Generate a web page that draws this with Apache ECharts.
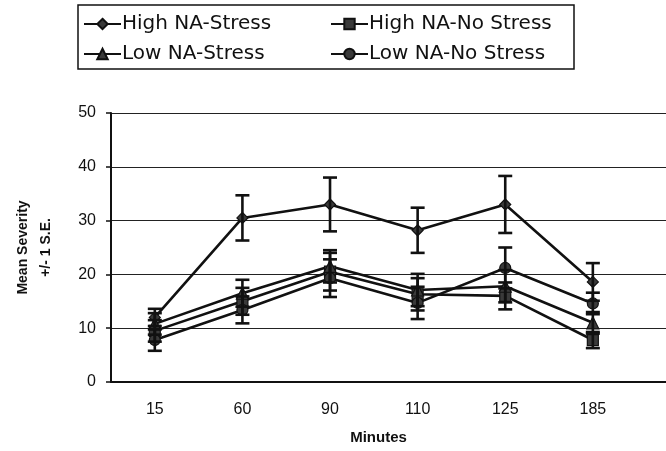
<!DOCTYPE html>
<html>
<head>
<meta charset="utf-8">
<script src="https://cdn.jsdelivr.net/npm/echarts@6/dist/echarts.min.js"></script>
<style>
html,body{margin:0;padding:0;background:#fff;}
#chart{width:666px;height:451px;}
</style>
</head>
<body>
<div id="chart"></div>
<script>
// ---- data ----
const categories = ['15', '60', '90', '110', '125', '185'];
const seriesNames = ['High NA-Stress', 'High NA-No Stress', 'Low NA-Stress', 'Low NA-No Stress'];
const highStress     = [12.0, 30.5, 33.0, 28.2, 33.0, 18.6];
const highNoStress   = [9.5, 15.0, 20.5, 16.3, 16.0, 7.8];
const lowStress      = [10.8, 16.5, 21.5, 17.1, 17.8, 11.0];
const lowNoStress    = [7.8, 13.4, 19.3, 14.7, 21.2, 14.6];
const highStressSE   = [1.6, 4.2, 5.0, 4.2, 5.3, 3.5];
const highNoStressSE = [2.0, 2.5, 3.5, 3.0, 2.5, 1.5];
const lowStressSE    = [2.0, 2.5, 3.0, 3.0, 3.0, 2.0];
const lowNoStressSE  = [2.0, 2.5, 3.5, 3.0, 3.8, 2.0];
const yTicks = [0, 10, 20, 30, 40, 50];

const FONT = 'Liberation Sans, Arial, sans-serif';
const LEGEND_FONT = 'DejaVu Sans, Liberation Sans, sans-serif';
const INK = '#111';
const symbols = ['diamond', 'rect', 'triangle', 'circle'];
const values = [highStress, highNoStress, lowStress, lowNoStress];
const ses = [highStressSE, highNoStressSE, lowStressSE, lowNoStressSE];

// category i sits at x = 2i+1 on a value axis so the plot can extend to the right edge
const xPos = i => 2 * i + 1;

const chart = echarts.init(document.getElementById('chart'), null, {renderer: 'canvas'});

const series = [];
values.forEach((vals, s) => {
  series.push({
    name: seriesNames[s],
    type: 'line',
    data: vals.map((v, i) => [xPos(i), v]),
    symbol: symbols[s],
    symbolSize: s === 2 ? 12 : 11,
    lineStyle: {color: INK, width: 2.6},
    itemStyle: {color: '#3a3a3a', borderColor: INK, borderWidth: 1.2},
    z: 3,
    animation: false
  });
  series.push({
    type: 'custom',
    name: seriesNames[s] + ' SE',
    data: vals.map((v, i) => [xPos(i), v - ses[s][i], v + ses[s][i]]),
    encode: {x: 0, y: [1, 2]},
    z: 4,
    animation: false,
    renderItem: function (params, api) {
      const x = api.value(0);
      const lo = api.coord([x, api.value(1)]);
      const hi = api.coord([x, api.value(2)]);
      const hw = 7;
      const st = {stroke: INK, lineWidth: 2.6};
      return {
        type: 'group',
        children: [
          {type: 'line', shape: {x1: lo[0], y1: lo[1], x2: hi[0], y2: hi[1]}, style: st},
          {type: 'line', shape: {x1: lo[0] - hw, y1: lo[1], x2: lo[0] + hw, y2: lo[1]}, style: st},
          {type: 'line', shape: {x1: hi[0] - hw, y1: hi[1], x2: hi[0] + hw, y2: hi[1]}, style: st}
        ]
      };
    }
  });
});

const legendCommon = {
  orient: 'horizontal',
  itemWidth: 37,
  itemHeight: 13,
  padding: 0,
  selectedMode: false,
  textStyle: {fontFamily: LEGEND_FONT, fontSize: 20, color: INK, padding: [0, 0, 0, -4]}
};
const legendPos = [[83, 14], [330, 14], [83, 44], [330, 44]];

const option = {
  backgroundColor: '#fff',
  animation: false,
  grid: {left: 111, top: 113, right: 0, bottom: 69, containLabel: false},
  legend: seriesNames.map((n, k) => Object.assign({}, legendCommon, {left: legendPos[k][0], top: legendPos[k][1], data: [n]})),
  graphic: [{
    type: 'rect',
    shape: {x: 78, y: 5, width: 496, height: 64},
    style: {fill: 'none', stroke: INK, lineWidth: 1.5},
    silent: true
  }],
  xAxis: {
    type: 'value',
    min: 0,
    max: 12.67,
    interval: 1,
    name: 'Minutes',
    nameLocation: 'middle',
    nameGap: 48,
    nameTextStyle: {fontFamily: FONT, fontSize: 15, fontWeight: 'bold', color: INK, padding: [0, 20, 0, 0]},
    axisLine: {show: true, lineStyle: {color: INK, width: 2}},
    axisTick: {show: false},
    splitLine: {show: false},
    axisLabel: {
      fontFamily: FONT, fontSize: 16, color: INK, margin: 20,
      showMaxLabel: false,
      formatter: function (v) {
        const r = Math.round(v);
        if (Math.abs(v - r) < 1e-6 && r % 2 === 1) return categories[(r - 1) / 2] || '';
        return '';
      }
    }
  },
  yAxis: {
    type: 'value',
    min: yTicks[0],
    max: yTicks[yTicks.length - 1],
    interval: yTicks[1] - yTicks[0],
    name: 'Mean Severity\n+/- 1 S.E.',
    nameLocation: 'middle',
    nameGap: 53,
    nameRotate: 90,
    nameTextStyle: {fontFamily: FONT, fontSize: 14, fontWeight: 'bold', color: INK, lineHeight: 23},
    axisLine: {show: true, lineStyle: {color: INK, width: 2}},
    axisTick: {show: true, inside: false, length: 5, lineStyle: {color: INK, width: 1.5}},
    splitLine: {show: true, lineStyle: {color: '#222', width: 1.2}},
    axisLabel: {fontFamily: FONT, fontSize: 16, color: INK, margin: 15}
  },
  series: series
};

chart.setOption(option);
</script>
</body>
</html>
